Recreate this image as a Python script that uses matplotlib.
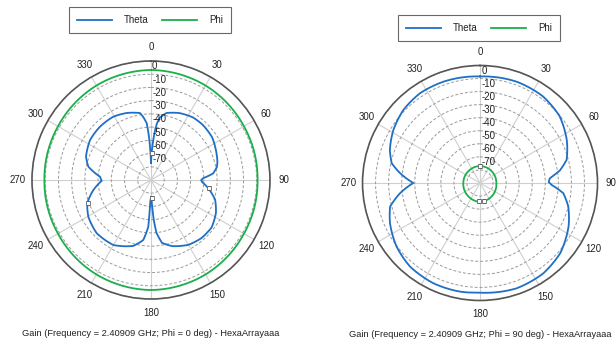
"""Two polar gain cuts (Theta / Phi components) side by side."""

import matplotlib

matplotlib.use("Agg")
import matplotlib.pyplot as plt  # noqa: E402
import numpy as np  # noqa: E402
from matplotlib.lines import Line2D  # noqa: E402

plt.rcParams["font.family"] = ["Liberation Sans", "DejaVu Sans"]

# --- Phi = 0 deg cut -------------------------------------------------------
cut0_theta_ang = [0, 4, 5, 6, 8, 13, 23, 34, 43, 55, 65, 75, 79, 84, 88, 90,
                  92, 98, 107, 117, 128, 139, 150, 162, 170, 174, 176, 177,
                  178.5, 180, 182, 183.3, 187.3, 195, 210, 225.5, 239.7, 250,
                  260, 269, 273.7, 282, 289.7, 303.3, 316.3, 329.2, 340.1,
                  350.7, 353, 355.7, 357, 359, 360]
cut0_theta_db = [-77, -56, -51, -47, -42.5, -38, -35, -33, -32.8, -33.6, -35.9,
                 -38, -39.3, -42.8, -50.5, -52, -51.5, -46.4, -39.3, -34.9,
                 -31.8, -31.8, -33.4, -37.4, -41.7, -49.7, -59.8, -67.3, -76,
                 -77.5, -73, -54.6, -44.3, -38.4, -33.2, -32.5, -35.1, -38.7,
                 -45.7, -52.7, -51.4, -41.6, -37.8, -34.9, -34.2, -34.3, -36.1,
                 -38.7, -42, -47, -55, -70, -77]
cut0_phi_ang = [0, 30, 60, 90, 120, 150, 180, 210, 240, 270, 300, 330, 360]
cut0_phi_db = [-6.8, -7.5, -8.8, -9.4, -8.8, -7.5, -6.8, -7.5, -8.8, -9.4,
               -8.8, -7.5, -6.8]
cut0_mark_ang = [1.5, 97.9, 250.3, 178]
cut0_mark_db = [-69.6, -45.8, -39.2, -76.6]

# --- Phi = 90 deg cut ------------------------------------------------------
cut90_theta_ang = [0, 20, 36, 50, 63.6, 75, 81, 86, 89, 91.6, 97, 105, 116,
                   131, 145, 161, 180, 190.4, 205, 220, 232.6, 246, 255.3,
                   262.7, 270, 277, 282.6, 290, 301.4, 313.6, 326.2, 340, 360]
cut90_theta_db = [-8.4, -7.5, -8.0, -10.4, -15.8, -21.3, -28, -36.4, -37.5,
                  -35.1, -25.7, -20, -14.5, -8.4, -5.5, -4.6, -6.0, -5.4, -5.3,
                  -6.5, -9.6, -14.5, -18.8, -28.2, -38.9, -28.3, -20.7, -16.5,
                  -12.2, -8.9, -7.3, -7.5, -8.4]
cut90_phi_ang = [0, 45, 90, 135, 180, 225, 270, 315, 360]
cut90_phi_db = [-77, -77.3, -77.5, -76.5, -75.4, -76.5, -77.2, -77.3, -77]
cut90_mark_ang = [0, 182, 167.5]
cut90_mark_db = [-77, -76.2, -75.9]

r_min, r_max = -90, 0
ring_values = list(range(-90, 1, 10))
ring_labels = [0, -10, -20, -30, -40, -50, -60, -70]
angle_ticks = list(range(0, 360, 30))

theta_color = "#1f6fc5"
phi_color = "#1aaf4b"
text_color = "#222222"


def polar_line(ax, ang, db, color):
    (line,) = ax.plot(np.deg2rad(ang), db, color=color, lw=1.3, zorder=3)
    # let the polar transform bend each segment along theta
    line.get_path()._interpolation_steps = 40
    return line


def draw_cut(ax, th_ang, th_db, ph_ang, ph_db, mk_ang, mk_db, title):
    ax.set_theta_zero_location("N")
    ax.set_theta_direction(-1)
    ax.set_ylim(r_min, r_max)
    ax.set_yticks(ring_values)
    ax.set_yticklabels([])
    ax.set_thetagrids(angle_ticks, [str(a) for a in angle_ticks],
                      fontsize=6.9, color=text_color)
    ax.tick_params(axis="x", pad=-0.5)
    ax.xaxis.grid(True, color="#cfcfcf", lw=0.8, ls="-")
    ax.yaxis.grid(True, color="#9a9a9a", lw=0.7, ls=(0, (3, 2)))
    ax.spines["polar"].set_color("#555555")
    ax.spines["polar"].set_linewidth(1.2)

    polar_line(ax, ph_ang, ph_db, phi_color)
    polar_line(ax, th_ang, th_db, theta_color)
    ax.plot(np.deg2rad(mk_ang), mk_db, ls="none", marker="s", ms=3,
            mfc="white", mec="#666666", mew=0.6, zorder=4)

    for v in ring_labels:
        ax.annotate(str(v), xy=(0, v), xytext=(0.8, -0.3),
                    textcoords="offset points", ha="left", va="top",
                    fontsize=7, color=text_color, zorder=5)
    ax.text(0.5, -0.145, title, transform=ax.transAxes, ha="center",
            va="center", fontsize=6.7, color=text_color)


fig = plt.figure(figsize=(6.16, 3.45), dpi=100)
ax_l = fig.add_axes([0.0519, 0.1333, 0.3864, 0.6899], projection="polar")
ax_r = fig.add_axes([0.5885, 0.1290, 0.3815, 0.6812], projection="polar")

draw_cut(ax_l, cut0_theta_ang, cut0_theta_db, cut0_phi_ang, cut0_phi_db,
         cut0_mark_ang, cut0_mark_db,
         "Gain (Frequency = 2.40909 GHz; Phi = 0 deg) - HexaArrayaaa")
draw_cut(ax_r, cut90_theta_ang, cut90_theta_db, cut90_phi_ang, cut90_phi_db,
         cut90_mark_ang, cut90_mark_db,
         "Gain (Frequency = 2.40909 GHz; Phi = 90 deg) - HexaArrayaaa")

handles = [Line2D([], [], color=theta_color, lw=1.3),
           Line2D([], [], color=phi_color, lw=1.3)]
for cx, cy in [(150 / 616, 1 - 20 / 345), (479 / 616, 1 - 28 / 345)]:
    leg = fig.legend(handles, ["Theta", "Phi"], loc="center",
                     bbox_to_anchor=(cx, cy), ncol=2, fontsize=7,
                     frameon=True, fancybox=False, handlelength=3.6,
                     columnspacing=1.4, handletextpad=1.2,
                     borderpad=0.8)
    leg.get_frame().set_edgecolor("#444444")
    leg.get_frame().set_linewidth(0.8)
    for t in leg.get_texts():
        t.set_color(text_color)

fig.savefig("out.png", dpi=100)
plt.close(fig)
